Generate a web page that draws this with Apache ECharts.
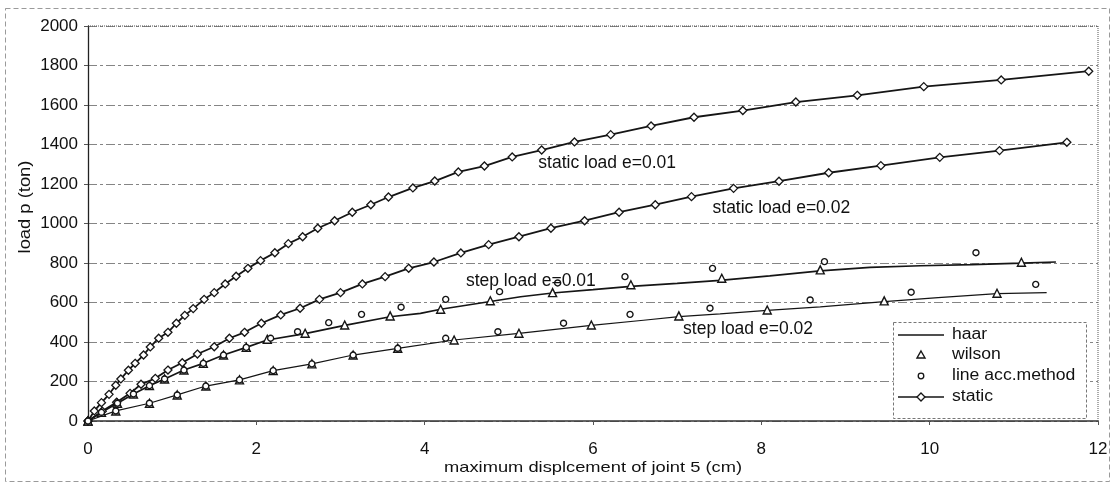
<!DOCTYPE html>
<html>
<head>
<meta charset="utf-8">
<script src="https://cdn.jsdelivr.net/npm/echarts@6/dist/echarts.min.js"></script>
<style>
  html, body { margin: 0; padding: 0; background: #fff; }
  #chart { width: 1114px; height: 486px; }
</style>
</head>
<body>
<div id="chart"></div>
<script>
// Load p (ton) against maximum displacement of joint 5 (cm), as [cm, ton] pairs.
const staticE001 = [[0,0],[0.075,51],[0.16,93],[0.25,135],[0.33,181],[0.39,213],[0.48,257],[0.56,292],[0.66,334],[0.74,375],[0.84,419],[0.95,449],[1.05,495],[1.15,535],[1.25,569],[1.38,616],[1.50,650],[1.63,694],[1.76,733],[1.90,773],[2.05,812],[2.22,852],[2.38,898],[2.55,933],[2.73,976],[2.93,1014],[3.14,1057],[3.36,1095],[3.57,1134],[3.86,1180],[4.12,1215],[4.40,1261],[4.71,1291],[5.04,1337],[5.39,1372],[5.78,1413],[6.21,1450],[6.69,1494],[7.20,1538],[7.78,1572],[8.41,1615],[9.14,1649],[9.93,1693],[10.85,1727],[11.89,1771]];
const staticE002 = [[0,0],[0.17,50],[0.34,95],[0.50,140],[0.63,186],[0.80,216],[0.95,258],[1.12,295],[1.30,339],[1.50,376],[1.68,419],[1.86,449],[2.06,495],[2.29,537],[2.52,571],[2.75,616],[3.00,650],[3.26,694],[3.53,731],[3.81,773],[4.11,805],[4.43,851],[4.76,893],[5.12,933],[5.50,976],[5.90,1014],[6.31,1057],[6.74,1095],[7.17,1136],[7.67,1178],[8.21,1214],[8.80,1257],[9.42,1293],[10.12,1335],[10.83,1369],[11.63,1411]];

const haarE001 = [[0,0],[0.16,44],[0.35,90],[0.54,137],[0.73,179],[0.91,213],[1.14,258],[1.37,292],[1.61,334],[1.88,373],[2.13,410],[2.58,442],[3.05,484],[3.59,528],[3.95,545],[4.19,566],[4.78,605],[5.14,629],[5.52,648],[6.00,665],[6.45,682],[7.00,697],[7.51,712],[8.10,735],[8.70,760],[9.29,778],[9.89,786],[10.50,792],[11.09,799],[11.50,805]];
const haarE002 = [[0,0],[0.33,51],[0.73,90],[1.06,132],[1.40,177],[1.80,208],[2.20,255],[2.66,289],[3.15,334],[3.68,368],[4.35,410],[5.12,444],[5.98,484],[6.60,510],[7.02,528],[7.51,542],[8.07,560],[8.70,578],[9.46,604],[10.10,625],[10.80,645],[11.39,650]];

const wilsonE001 = [[0,0],[0.16,44],[0.35,90],[0.54,137],[0.73,179],[0.91,213],[1.14,258],[1.37,292],[1.61,334],[1.88,373],[2.13,414],[2.58,444],[3.05,486],[3.59,532],[4.19,566],[4.78,609],[5.52,650],[6.45,690],[7.53,723],[8.70,765],[11.09,804]];
const wilsonE002 = [[0,0],[0.33,51],[0.73,90],[1.06,132],[1.40,177],[1.80,208],[2.20,255],[2.66,289],[3.15,334],[3.68,368],[4.35,410],[5.12,444],[5.98,486],[7.02,532],[8.07,562],[9.46,608],[10.80,647]];

const lineAccE001 = [[0,0],[0.16,44],[0.35,90],[0.54,137],[0.73,179],[0.91,213],[1.14,258],[1.37,292],[1.61,334],[1.88,373],[2.17,419],[2.49,452],[2.86,498],[3.25,540],[3.72,576],[4.25,616],[4.89,655],[5.58,699],[6.38,731],[7.42,773],[8.75,807],[10.55,852]];
const lineAccE002 = [[0,0],[0.33,51],[0.73,90],[1.06,132],[1.40,177],[1.80,208],[2.20,255],[2.66,289],[3.15,334],[3.68,368],[4.25,419],[4.87,452],[5.65,495],[6.44,540],[7.39,571],[8.58,613],[9.78,652],[11.26,692]];

// Curve captions, anchored at their left edge in data units.
const curveLabels = [
  { text: 'static load e=0.01', at: [5.35, 1306] },
  { text: 'static load e=0.02', at: [7.42, 1078] },
  { text: 'step load e=0.01',   at: [4.49, 709] },
  { text: 'step load e=0.02',   at: [7.07, 466] }
];

const xAxisRange = { min: 0, max: 12, interval: 2 };
const yAxisRange = { min: 0, max: 2000, interval: 200 };
const legendNames = ['haar', 'wilson', 'line acc.method', 'static'];
const xTitle = 'maximum displcement of joint 5 (cm)';
const yTitle = 'load p (ton)';

const FONT = "'Liberation Sans', Arial, sans-serif";
const INK = '#151515';

const chart = echarts.init(document.getElementById('chart'), null, { renderer: 'canvas' });

function haarSeries(data, width) {
  return {
    name: 'haar', type: 'line', data: data, symbol: 'none', showSymbol: false,
    lineStyle: { color: INK, width: width }, itemStyle: { color: INK },
    z: 2, animation: false
  };
}
function staticSeries(data) {
  return {
    name: 'static', type: 'line', data: data, symbol: 'diamond', symbolSize: 8,
    showAllSymbol: true,
    lineStyle: { color: INK, width: 1.8 },
    itemStyle: { color: '#fff', borderColor: INK, borderWidth: 1.3 },
    z: 3, animation: false
  };
}
function markerSeries(name, data, symbol, size) {
  return {
    name: name, type: 'scatter', data: data, symbol: symbol, symbolSize: size,
    itemStyle: { color: '#fff', borderColor: INK, borderWidth: 1.4, opacity: 1 },
    z: 4, animation: false
  };
}

chart.setOption({
  animation: false,
  backgroundColor: '#fff',
  grid: { left: 88, right: 16, top: 26, bottom: 65, containLabel: false },
  xAxis: {
    type: 'value', min: xAxisRange.min, max: xAxisRange.max, interval: xAxisRange.interval,
    axisLine: { show: true, onZero: false, lineStyle: { color: '#333', width: 1.5 } },
    axisTick: { show: true, inside: false, length: 4, lineStyle: { color: '#555' } },
    axisLabel: { margin: 20, fontFamily: FONT, fontSize: 17, color: '#111' },
    splitLine: { show: false }
  },
  yAxis: {
    type: 'value', min: yAxisRange.min, max: yAxisRange.max, interval: yAxisRange.interval,
    axisLine: { show: true, onZero: false, lineStyle: { color: '#222', width: 1.3 } },
    axisTick: { show: true, inside: false, length: 4, lineStyle: { color: '#555' } },
    axisLabel: { margin: 10, fontFamily: FONT, fontSize: 17, color: '#111',
                 formatter: function (v) { return String(v); } },
    splitLine: { show: true, lineStyle: { color: '#858585', width: 1, type: [9, 3, 3, 3] } }
  },
  series: [
    haarSeries(haarE001, 1.7),
    haarSeries(haarE002, 1.2),
    staticSeries(staticE001),
    staticSeries(staticE002),
    markerSeries('wilson', wilsonE001, 'triangle', 8),
    markerSeries('wilson', wilsonE002, 'triangle', 8),
    markerSeries('line acc.method', lineAccE001, 'circle', 6),
    markerSeries('line acc.method', lineAccE002, 'circle', 6)
  ]
});

// Frame, plot border, key, axis titles and curve captions.
const topLeft = chart.convertToPixel({ gridIndex: 0 }, [xAxisRange.min, yAxisRange.max]);
const bottomRight = chart.convertToPixel({ gridIndex: 0 }, [xAxisRange.max, yAxisRange.min]);
const plotMidX = (topLeft[0] + bottomRight[0]) / 2;

function textEl(text, x, y, size, opts) {
  return Object.assign({
    type: 'text', silent: true, z: 20, x: x, y: y,
    style: { text: text, fontFamily: FONT, fontSize: size, fill: '#111',
             align: 'left', verticalAlign: 'middle' }
  }, opts || {});
}

const graphics = [
  { type: 'rect', silent: true, z: 0,
    shape: { x: 5.5, y: 8.5, width: 1104, height: 473 },
    style: { fill: 'none', stroke: '#9a9a9a', lineWidth: 1, lineDash: [5, 3] } },
  { type: 'line', silent: true, z: 1,
    shape: { x1: topLeft[0], y1: topLeft[1], x2: bottomRight[0], y2: topLeft[1] },
    style: { stroke: '#555', lineWidth: 1, lineDash: [1, 1] } },
  { type: 'line', silent: true, z: 1,
    shape: { x1: bottomRight[0], y1: topLeft[1], x2: bottomRight[0], y2: bottomRight[1] },
    style: { stroke: '#555', lineWidth: 1, lineDash: [1, 1] } },
  // y axis title
  textEl(yTitle, 25, 207, 17, { rotation: Math.PI / 2, scaleX: 1.08,
    style: { text: yTitle, fontFamily: FONT, fontSize: 17, fill: '#111', align: 'center', verticalAlign: 'middle' } }),
  // x axis title
  textEl(xTitle, plotMidX, 468, 15, { scaleX: 1.22,
    style: { text: xTitle, fontFamily: FONT, fontSize: 15, fill: '#111', align: 'center', verticalAlign: 'middle' } })
];

// Key box with the four entries
const key = { x: 893.5, y: 322.5, w: 193, h: 96, iconL: 898, iconR: 944, iconMid: 921, textX: 952 };
const rowY = [335, 355, 376, 397];
graphics.push(
  { type: 'rect', silent: true, z: 15,
    shape: { x: key.x, y: key.y, width: key.w, height: key.h },
    style: { fill: '#fff', stroke: '#777', lineWidth: 1, lineDash: [3, 2] } },
  // haar
  { type: 'line', silent: true, z: 16,
    shape: { x1: key.iconL, y1: rowY[0], x2: key.iconR, y2: rowY[0] },
    style: { stroke: INK, lineWidth: 1.6 } },
  // wilson
  { type: 'polygon', silent: true, z: 16,
    shape: { points: [[key.iconMid, rowY[1] - 4], [key.iconMid + 4, rowY[1] + 3], [key.iconMid - 4, rowY[1] + 3]] },
    style: { fill: '#fff', stroke: INK, lineWidth: 1.4 } },
  // line acc.method
  { type: 'circle', silent: true, z: 16,
    shape: { cx: key.iconMid, cy: rowY[2], r: 2.8 },
    style: { fill: '#fff', stroke: INK, lineWidth: 1.3 } },
  // static
  { type: 'line', silent: true, z: 16,
    shape: { x1: key.iconL, y1: rowY[3], x2: key.iconR, y2: rowY[3] },
    style: { stroke: INK, lineWidth: 1.6 } },
  { type: 'polygon', silent: true, z: 17,
    shape: { points: [[key.iconMid, rowY[3] - 4], [key.iconMid + 4, rowY[3]], [key.iconMid, rowY[3] + 4], [key.iconMid - 4, rowY[3]]] },
    style: { fill: '#fff', stroke: INK, lineWidth: 1.3 } }
);
legendNames.forEach(function (name, i) {
  graphics.push(textEl(name, key.textX, rowY[i], 16, { scaleX: 1.1 }));
});

curveLabels.forEach(function (c) {
  const p = chart.convertToPixel({ gridIndex: 0 }, c.at);
  graphics.push(textEl(c.text, p[0], p[1], 17.5));
});
chart.setOption({ graphic: graphics });
</script>
</body>
</html>
